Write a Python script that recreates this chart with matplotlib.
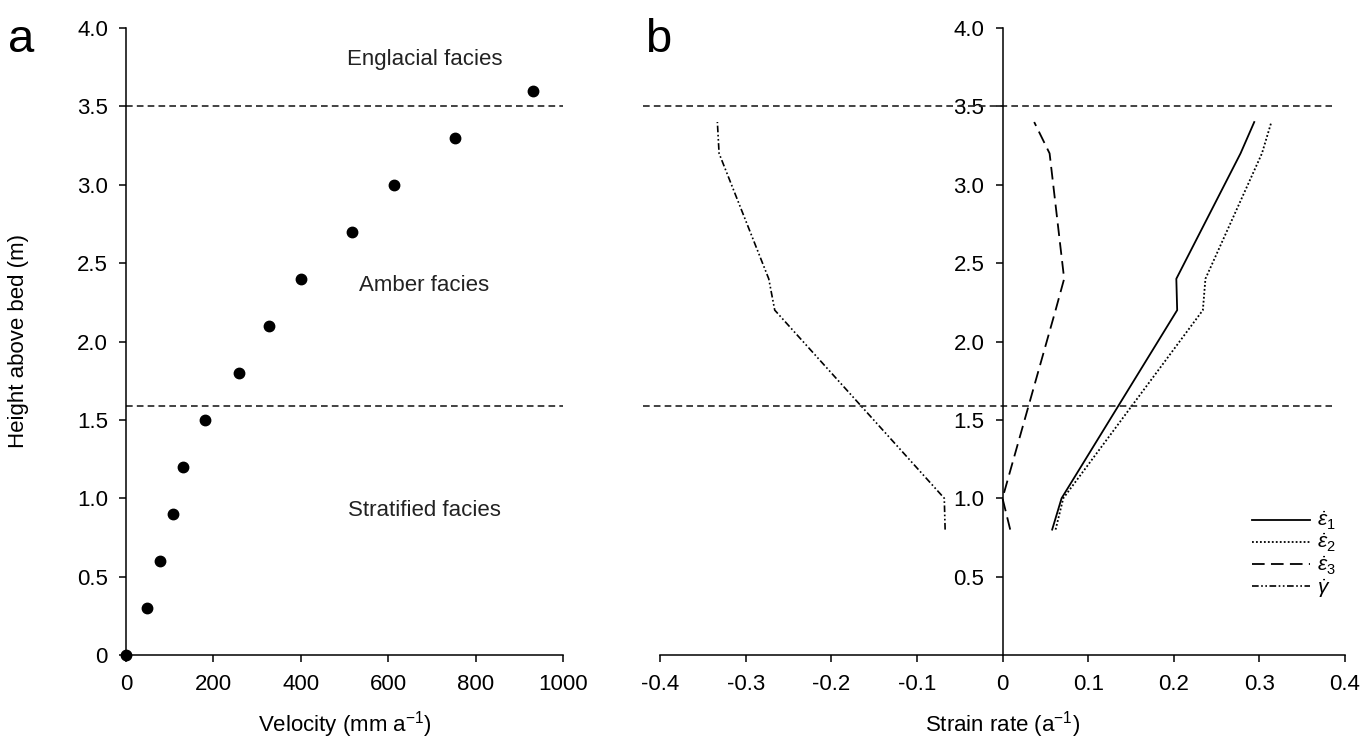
import matplotlib
matplotlib.use("Agg")
import matplotlib.pyplot as plt

plt.rcParams.update({
    'font.family': ['Liberation Sans', 'DejaVu Sans'],
    'mathtext.fontset': 'custom',
    'mathtext.rm': 'Liberation Sans',
    'mathtext.it': 'Liberation Sans:italic',
    'font.size': 16,
    'xtick.labelsize': 16,
    'ytick.labelsize': 16,
    'axes.linewidth': 1.1,
    'xtick.major.width': 1.1,
    'ytick.major.width': 1.1,
    'xtick.major.size': 5,
    'ytick.major.size': 5,
})

# panel a: velocity profile
height_a = [0.0, 0.3, 0.6, 0.9, 1.2, 1.5, 1.8, 2.1, 2.4, 2.7, 3.0, 3.3, 3.6]
velocity = [0, 47, 78, 108, 131, 181, 258, 327, 400, 518, 614, 753, 932]

# panel b: strain rates
height_b = [0.8, 1.0, 2.2, 2.4, 3.2, 3.4]
eps1 = [0.058, 0.069, 0.204, 0.203, 0.278, 0.294]
eps2 = [0.062, 0.071, 0.234, 0.237, 0.303, 0.314]
eps3 = [0.009, 0.000, 0.062, 0.072, 0.055, 0.037]
gamma = [-0.067, -0.068, -0.266, -0.273, -0.331, -0.333]

# facies boundaries
boundaries = [3.5, 1.59]
facies = ["Englacial facies", "Amber facies", "Stratified facies"]
facies_h = [3.80, 2.36, 0.92]

fig = plt.figure(figsize=(13.6, 7.45), dpi=100)
ax1 = fig.add_axes([126/1360, 1 - 655/745, 437/1360, 627/745])
ax2 = fig.add_axes([660/1360, 1 - 655/745, 685/1360, 627/745])

# ---- panel a
ax1.plot(velocity, height_a, 'o', color='black', markersize=7.5, clip_on=False, zorder=5)
for b in boundaries:
    ax1.plot([0, 1000], [b, b], color='#222222', lw=1.2, ls=(0, (4, 2.5)))
for t, h in zip(facies, facies_h):
    ax1.text(683, h, t, ha='center', va='center', fontsize=16, color='#222222')

ax1.set_xlim(0, 1000)
ax1.set_ylim(0, 4)
ax1.set_xticks([0, 200, 400, 600, 800, 1000])
ax1.set_yticks([0, 0.5, 1.0, 1.5, 2.0, 2.5, 3.0, 3.5, 4.0])
ax1.set_yticklabels(['0', '0.5', '1.0', '1.5', '2.0', '2.5', '3.0', '3.5', '4.0'])
ax1.spines['top'].set_visible(False)
ax1.spines['right'].set_visible(False)
ax1.set_xlabel('Velocity (mm a$^{-1}$)', fontsize=16, labelpad=10)
ax1.set_ylabel('Height above bed (m)', fontsize=16)
ax1.yaxis.set_label_coords(-0.222, 0.5)
ax1.tick_params(axis='x', pad=9)
ax1.tick_params(axis='y', pad=8)

# ---- panel b
ax2.plot(eps1, height_b, color='black', lw=1.3, ls='-', label=r'$\dot{\varepsilon}_1$')
ax2.plot(eps2, height_b, color='black', lw=1.3, ls=(0, (1, 1.2)), label=r'$\dot{\varepsilon}_2$')
ax2.plot(eps3, height_b, color='black', lw=1.3, ls=(0, (7, 3.5)), label=r'$\dot{\varepsilon}_3$')
ax2.plot(gamma, height_b, color='black', lw=1.2, ls=(0, (4, 1.5, 1, 1.5, 1, 1.5)), label=r'$\dot{\gamma}$')
for b in boundaries:
    ax2.plot([-0.42, 0.385], [b, b], color='#222222', lw=1.2, ls=(0, (4, 2.5)), clip_on=False)

ax2.set_xlim(-0.4, 0.4)
ax2.set_ylim(0, 4)
ax2.set_xticks([-0.4, -0.3, -0.2, -0.1, 0, 0.1, 0.2, 0.3, 0.4])
ax2.set_xticklabels(['-0.4', '-0.3', '-0.2', '-0.1', '0', '0.1', '0.2', '0.3', '0.4'])
ax2.set_yticks([0.5, 1.0, 1.5, 2.0, 2.5, 3.0, 3.5, 4.0])
ax2.set_yticklabels(['0.5', '1.0', '1.5', '2.0', '2.5', '3.0', '3.5', '4.0'])
ax2.spines['top'].set_visible(False)
ax2.spines['right'].set_visible(False)
ax2.spines['left'].set_position(('data', 0))
ax2.set_xlabel('Strain rate (a$^{-1}$)', fontsize=16, labelpad=10)
ax2.tick_params(axis='x', pad=9)
ax2.tick_params(axis='y', pad=8)

ax2.legend(loc='upper left', bbox_to_anchor=(1252/1360, 1 - 510/745),
           bbox_transform=fig.transFigure, frameon=False, fontsize=15,
           handlelength=2.8, handletextpad=0.3, labelspacing=0.0,
           borderpad=0, borderaxespad=0)

fig.text(8/1360, 1 - 40/745, 'a', fontsize=34, va='center', ha='left')
fig.text(645/1360, 1 - 40/745, 'b', fontsize=34, va='center', ha='left')

fig.savefig('out.png', dpi=100)
